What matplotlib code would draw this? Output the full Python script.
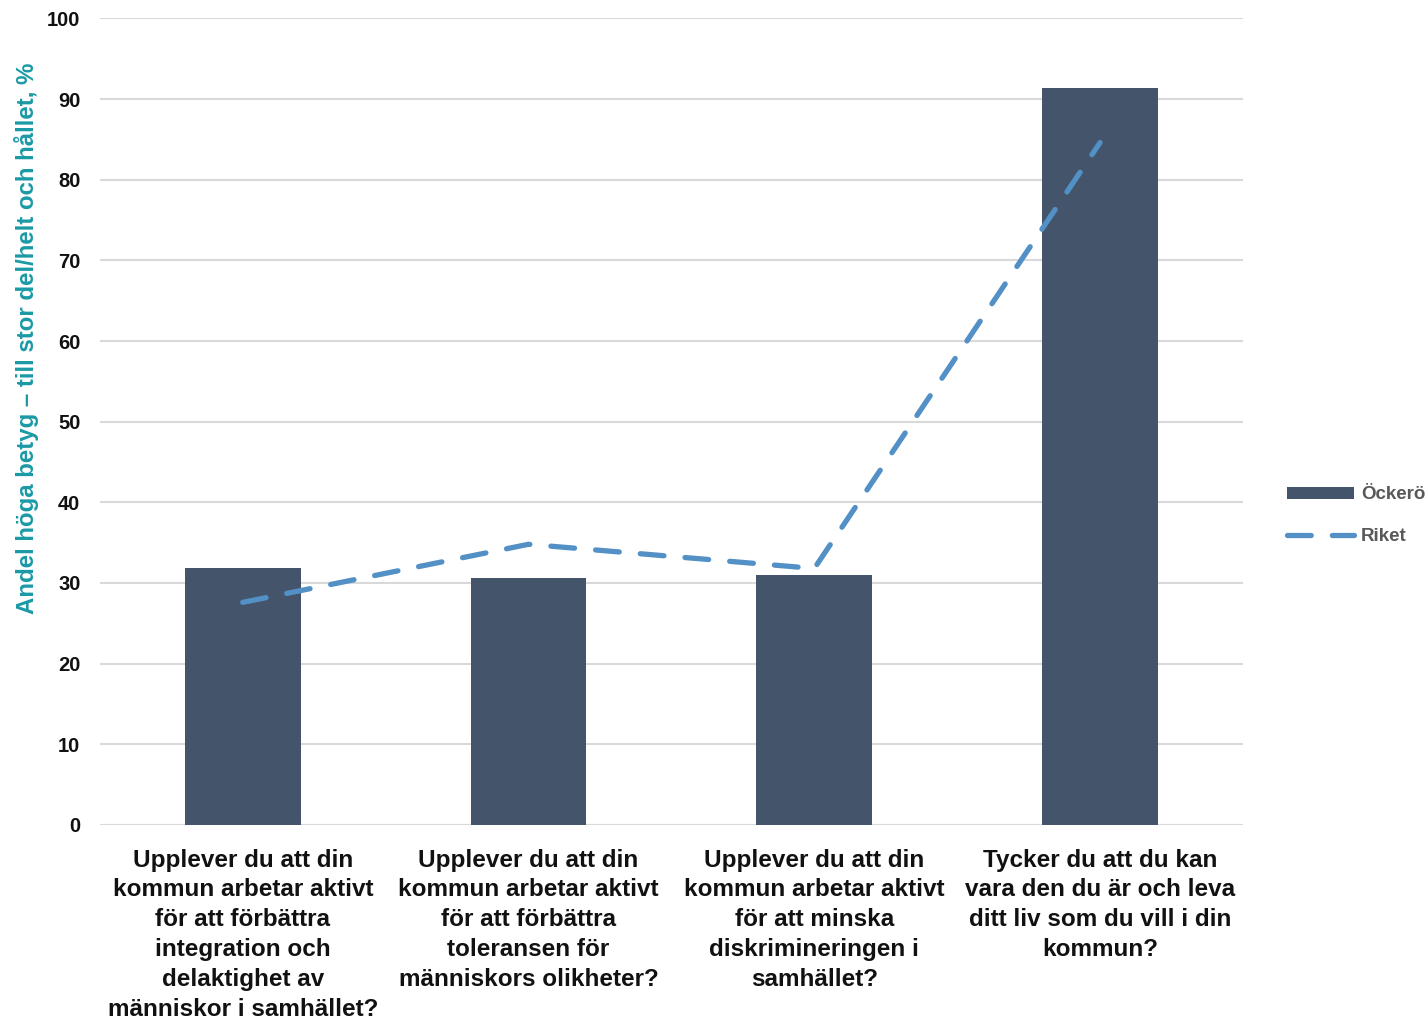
import matplotlib
matplotlib.use("Agg")
import matplotlib.pyplot as plt
from matplotlib.lines import Line2D
from matplotlib.patches import Patch

categories = [
    "Upplever du att din\nkommun arbetar aktivt\nför att förbättra\nintegration och\ndelaktighet av\nmänniskor i samhället?",
    "Upplever du att din\nkommun arbetar aktivt\nför att förbättra\ntoleransen för\nmänniskors olikheter?",
    "Upplever du att din\nkommun arbetar aktivt\nför att minska\ndiskrimineringen i\nsamhället?",
    "Tycker du att du kan\nvara den du är och leva\nditt liv som du vill i din\nkommun?",
]
ockero = [31.8, 30.6, 31.0, 91.4]
riket = [27.6, 34.8, 31.8, 84.6]
yticks = [0, 10, 20, 30, 40, 50, 60, 70, 80, 90, 100]

plt.rcParams['font.family'] = ['Liberation Sans', 'DejaVu Sans']

fig = plt.figure(figsize=(14.27, 10.21), dpi=100)
ax = fig.add_axes([0.070, 0.192, 0.801, 0.790])

x = list(range(len(categories)))
ax.bar(x, ockero, width=0.405, color='#44546A', zorder=3, label='Öckerö')
ax.plot(x, riket, color='#5390C6', linewidth=3.8, linestyle=(0, (4.5, 4.0)),
        dash_capstyle='round', solid_capstyle='round', zorder=4, label='Riket')

ax.set_xlim(-0.5, 3.5)
ax.set_ylim(0, 100)
ax.set_yticks(yticks)
ax.set_yticklabels([str(v) for v in yticks], fontsize=14.5, fontweight='bold', color='#111111')
ax.set_xticks(x)
ax.set_xticklabels(categories, fontsize=17.5, fontweight='bold', color='#111111', linespacing=1.38)
ax.tick_params(axis='both', length=0)
ax.tick_params(axis='y', pad=14)
ax.tick_params(axis='x', pad=17)
ax.grid(axis='y', color='#D9D9D9', linewidth=1.5, zorder=0)
for s in ax.spines.values():
    s.set_visible(False)
ax.axhline(0, color='#D9D9D9', linewidth=1.5, zorder=2)

ax.set_ylabel('Andel höga betyg – till stor del/helt och hållet, %', fontsize=17.3,
              fontweight='bold', color='#1A9AA6')
ax.yaxis.set_label_coords(-0.053, 0.603)

handles = [Patch(facecolor='#44546A', edgecolor='none'),
           Line2D([0], [0], color='#5390C6', linewidth=3.8, linestyle=(0, (4.5, 4.0)),
                  dash_capstyle='round')]
leg = fig.legend(handles, ['Öckerö', 'Riket'], loc='center left',
                 bbox_to_anchor=(0.890, 0.495), frameon=False, fontsize=13.5,
                 handlelength=3.6, handleheight=0.6, handletextpad=0.35, labelspacing=1.3)
for t in leg.get_texts():
    t.set_color('#595959')
    t.set_fontweight('bold')

fig.savefig('out.png', dpi=100)
